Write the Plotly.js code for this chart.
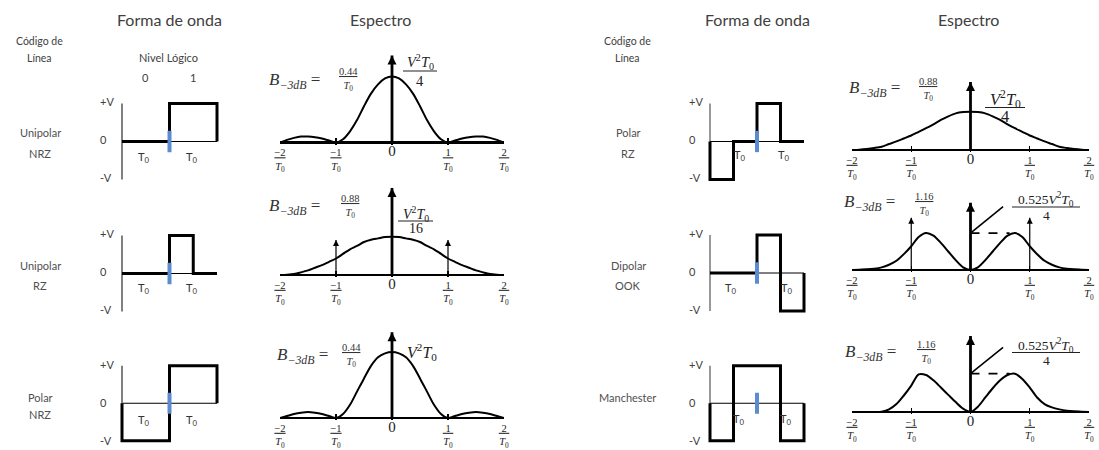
<!DOCTYPE html>
<html><head><meta charset="utf-8">
<script src="https://cdn.plot.ly/plotly-3.0.1.min.js"></script>
<style>html,body{margin:0;padding:0;background:#fff;}#chart{width:1099px;height:450px;}</style>
</head><body><div id="chart"></div>
<script>
// ---------------- data ----------------
const lineCodeNames = [['Unipolar','NRZ'],['Unipolar','RZ'],['Polar','NRZ'],['Polar','RZ'],['Dipolar','OOK'],['Manchester']];
const columnTitles = ['Forma de onda','Espectro'];
const logicLevels = ['0','1'];
const voltLabels = ['+V','0','-V'];
const freqTickVals = [-2,-1,0,1,2];
const freqTickText = ['<u>\u22122</u><br><i>T</i><sub>0</sub>','<u>\u22121</u><br><i>T</i><sub>0</sub>','<span style="font-size:15px">0</span>','<u>\u00a01\u00a0</u><br><i>T</i><sub>0</sub>','<u>\u00a02\u00a0</u><br><i>T</i><sub>0</sub>'];

// waveforms: time in units of T0, level in units of V
const uniNrzT = [0,1,1,2,2],                 uniNrzV = [0,0,1,1,0];
const uniRzT  = [0,1,1,1.5,1.5,2],           uniRzV  = [0,0,1,1,0,0];
const polNrzT = [0,0,1,1,2,2],               polNrzV = [0,-1,-1,1,1,0];
const polRzT  = [0,0,0.5,0.5,1,1,1.5,1.5,2], polRzV  = [0,-1,-1,0,0,1,1,0,0];
const dipOokT = [0,1,1,1.5,1.5,2,2],         dipOokV = [0,0,1,1,-1,-1,0];
const manchT  = [0,0,0.5,0.5,1.5,1.5,2,2],   manchV  = [0,-1,-1,1,1,-1,-1,0];

// spectra: frequency in units of 1/T0 and drawn height, both
const freqGrid = [-2,-1.875,-1.75,-1.625,-1.5,-1.375,-1.25,-1.125,-1,-0.875,-0.75,-0.625,-0.5,-0.375,-0.25,-0.125,0,
                  0.125,0.25,0.375,0.5,0.625,0.75,0.875,1,1.125,1.25,1.375,1.5,1.625,1.75,1.875,2];
const psdUniNrz = [0,0.04,0.07,0.09,0.09,0.08,0.06,0.03,0,0.05,0.17,0.34,0.55,0.74,0.88,0.97,1.0,
                   0.97,0.88,0.74,0.55,0.34,0.17,0.05,0,0.03,0.06,0.08,0.09,0.09,0.07,0.04,0];
const psdUniRz  = [0,0.005,0.015,0.04,0.07,0.11,0.15,0.2,0.25,0.32,0.39,0.44,0.5,0.535,0.555,0.575,0.58,
                   0.575,0.555,0.535,0.5,0.44,0.39,0.32,0.25,0.2,0.15,0.11,0.07,0.04,0.015,0.005,0];
const psdPolNrz = [0,0.03,0.06,0.08,0.09,0.08,0.06,0.03,0,0.06,0.2,0.4,0.6,0.79,0.92,0.98,1.0,
                   0.98,0.92,0.79,0.6,0.4,0.2,0.06,0,0.03,0.06,0.08,0.09,0.08,0.06,0.03,0];
const psdPolRz  = [0,0.005,0.015,0.03,0.05,0.09,0.13,0.175,0.22,0.275,0.33,0.39,0.455,0.51,0.555,0.575,0.58,
                   0.575,0.555,0.51,0.455,0.39,0.33,0.275,0.22,0.175,0.13,0.09,0.05,0.03,0.015,0.005,0];
const psdDipOok = [0,0.005,0.01,0.02,0.04,0.08,0.14,0.24,0.36,0.5,0.56,0.52,0.41,0.28,0.15,0.04,0,
                   0.04,0.15,0.28,0.41,0.52,0.56,0.5,0.36,0.24,0.14,0.08,0.04,0.02,0.01,0.005,0];
const psdManch  = [0,0,0,0,0.005,0.04,0.12,0.25,0.4,0.57,0.56,0.48,0.37,0.26,0.15,0.05,0,
                   0.08,0.22,0.36,0.48,0.56,0.58,0.5,0.37,0.22,0.12,0.07,0.04,0.02,0.01,0.005,0];

const impulseMain = [1.32,1.32,1.30,1.03,1.02,1.15];   // vertical-axis arrow heights
const impulseSide = [null,0.53,null,null,0.79,null];    // discrete lines at +-1/T0
const bandwidth3dB = ['0.44','0.88','0.44','0.88','1.16','1.16'];
const V2T0 = '<i>V</i><sup>2</sup><i>T</i><sub>0</sub>';
const peakNum = [V2T0, V2T0, V2T0, V2T0, '0.525' + V2T0, '0.525' + V2T0];
const peakDen = ['4','16',null,'4','4','4'];

const waves = [[uniNrzT,uniNrzV],[uniRzT,uniRzV],[polNrzT,polNrzV],[polRzT,polRzV],[dipOokT,dipOokV],[manchT,manchV]];
const spectra = [psdUniNrz,psdUniRz,psdPolNrz,psdPolRz,psdDipOok,psdManch];

// ---------------- layout helpers ----------------
const W = 1099, H = 450;
const X = p => p / W, Y = p => 1 - p / H;
const SANS = 'Lato, "Open Sans", sans-serif';
const SERIF = '"Liberation Serif", "DejaVu Serif", serif';
const TXT = '#404040';

// per-panel placement (pixels)
const panelPos = [
  {wx0:122, wT:47.5, zero:141.5, sx0:280, sx1:504, axis:142.5, lab:[40,132,153], t0:[144,192], t0y:157, vlx:98,
   bx:267, by:81, fx:348, fy:79, px:420, pny:62, pdy:80.5, bar:[403,437,71], pfs:14.5},
  {wx0:122, wT:47.5, zero:273.5, sx0:280, sx1:504, axis:275, lab:[40,265,285], t0:[144,192], t0y:288, vlx:98,
   bx:267, by:207, fx:350, fy:206, px:416, pny:214, pdy:229, bar:[398,433,221], pfs:14},
  {wx0:122, wT:47.5, zero:404, sx0:280, sx1:504, axis:418, lab:[40,397,414], t0:[144,192], t0y:420, vlx:98,
   bx:275, by:356, fx:351, fy:355, px:422, pny:352, pdy:null, bar:null, pfs:16},
  {wx0:710, wT:47, zero:141.5, sx0:852, sx1:1089, axis:150, lab:[628,132,153], t0:[740,784], t0y:155, vlx:687,
   bx:847, by:89, fx:928, fy:89, px:1005, pny:99, pdy:116, bar:[985,1025,107.5], pfs:16.5},
  {wx0:710, wT:47, zero:273, sx0:852, sx1:1089, axis:270, lab:[628,265,285], t0:[731,787], t0y:288, vlx:687,
   bx:842, by:203, fx:924, fy:204, px:1046, pny:199.5, pdy:215, bar:[1012,1080,207], pfs:13.5},
  {wx0:710, wT:47, zero:404, sx0:852, sx1:1089, axis:412, lab:[627,397,414], t0:[739,786], t0y:419, vlx:687,
   bx:843, by:353, fx:926, fy:352, px:1046, pny:345.5, pdy:360, bar:[1012,1080,352.5], pfs:13.5}
];

const VPX = 38;          // pixels per V in waveform panels
const SPX = 66;          // pixels per unit height in spectrum panels
const WR = [-0.15, 2.3], VR = [-1.25, 1.25], SR = [-0.035, 1.4];

const layout = {
  width: W, height: H, margin: {l:0, r:0, t:0, b:0},
  paper_bgcolor: '#ffffff', plot_bgcolor: 'rgba(0,0,0,0)',
  showlegend: false, font: {family: SANS, color: TXT},
  annotations: [], shapes: []
};
const traces = [];
const ann = (o) => layout.annotations.push(Object.assign({showarrow:false, xref:'paper', yref:'paper'}, o));

// column headers
[[169.5,757],[380,968.5]].forEach((xs, c) => xs.forEach(x =>
  ann({x:X(x), y:Y(19), text:columnTitles[c], font:{family:SANS, size:16, color:TXT}, xanchor:'center', yanchor:'middle'})));
[39,627].forEach(x => {
  ann({x:X(x), y:Y(41), text:'Código de', font:{family:SANS, size:10.5, color:TXT}, xanchor:'center', yanchor:'middle'});
  ann({x:X(x), y:Y(58), text:'Línea', font:{family:SANS, size:10.5, color:TXT}, xanchor:'center', yanchor:'middle'});
});
ann({x:X(168.5), y:Y(58), text:'Nivel Lógico', font:{family:SANS, size:11, color:TXT}, xanchor:'center', yanchor:'middle'});
logicLevels.forEach((t, k) => ann({x:X([145.5,192.5][k]), y:Y(77), text:t, font:{family:SANS, size:11, color:TXT}, xanchor:'center', yanchor:'middle'}));

panelPos.forEach((p, i) => {
  const a = 2*i + 1, b = 2*i + 2;
  const xa = 'x' + (a === 1 ? '' : a), ya = 'y' + (a === 1 ? '' : a);
  const xb = 'x' + b, yb = 'y' + b;
  // waveform axes
  layout['xaxis' + (a === 1 ? '' : a)] = {domain:[X(p.wx0 + WR[0]*p.wT), X(p.wx0 + WR[1]*p.wT)], range:WR, visible:false, anchor:ya, fixedrange:true};
  layout['yaxis' + (a === 1 ? '' : a)] = {domain:[Y(p.zero - VR[0]*VPX), Y(p.zero - VR[1]*VPX)], range:VR, visible:false, anchor:xa, fixedrange:true};
  // spectrum axes
  layout['xaxis' + b] = {domain:[X(p.sx0), X(p.sx1)], range:[-2,2], anchor:yb, showgrid:false, zeroline:false, showline:false,
    ticks:'inside', ticklen:6.5, tickwidth:1.3, tickcolor:'#000', tickvals:freqTickVals, ticktext:freqTickText,
    tickfont:{family:SERIF, size:10.5, color:'#222'}, fixedrange:true};
  layout['yaxis' + b] = {domain:[Y(p.axis - SR[0]*SPX), Y(p.axis - SR[1]*SPX)], range:SR, anchor:xb, showgrid:false,
    zeroline:true, zerolinecolor:'#000', zerolinewidth:2.6, showline:false, showticklabels:false, ticks:'', fixedrange:true};

  const left = i < 3;
  // waveform: zero reference, vertical axis, signal, bit boundary marker
  traces.push({x:[0,2], y:[0,0], xaxis:xa, yaxis:ya, mode:'lines', line:{color:'#000', width:1}, hoverinfo:'skip'});
  traces.push({x:[0,0], y:[-1,1], xaxis:xa, yaxis:ya, mode:'lines', line:{color:left ? '#808080' : '#555', width:left ? 2 : 1.2}, hoverinfo:'skip'});
  traces.push({x:waves[i][0], y:waves[i][1], xaxis:xa, yaxis:ya, mode:'lines', line:{color:'#000', width:3}, hoverinfo:'skip'});
  traces.push({x:[1,1], y:[-0.28,0.28], xaxis:xa, yaxis:ya, mode:'lines', line:{color:'#5b8bd0', width:4}, hoverinfo:'skip'});

  // level labels
  voltLabels.forEach((t, k) => ann({x:X(p.vlx), y:Y(p.zero - [1,0,-1][k]*VPX - 2), text:t, font:{family:SANS, size:11, color:TXT}, xanchor:'left', yanchor:'middle'}));
  // T0 labels
  p.t0.forEach(x => ann({x:X(x), y:Y(p.t0y), text:'T<sub>0</sub>', font:{family:SANS, size:11, color:'#333'}, xanchor:'center', yanchor:'middle'}));
  // line code name
  lineCodeNames[i].forEach((t, k) => ann({x:X(p.lab[0]), y:Y(lineCodeNames[i].length === 1 ? p.lab[1] : p.lab[1 + k]), text:t, font:{family:SANS, size:11, color:'#505050'}, xanchor:'center', yanchor:'middle'}));

  // spectrum curve
  traces.push({x:freqGrid, y:spectra[i], xaxis:xb, yaxis:yb, mode:'lines', line:{color:'#000', width:2, shape:'spline', smoothing:0.8}, hoverinfo:'skip'});
  // vertical axis arrow (stem + head)
  traces.push({x:[0,0], y:[0,impulseMain[i]], xaxis:xb, yaxis:yb, mode:'lines', line:{color:'#000', width:2.8}, hoverinfo:'skip', cliponaxis:false});
  traces.push({x:[0], y:[impulseMain[i]], xaxis:xb, yaxis:yb, mode:'markers', marker:{symbol:'arrow-up', size:9, color:'#000', line:{width:0}}, hoverinfo:'skip', cliponaxis:false});
  // discrete spectral lines at +-1/T0
  if (impulseSide[i] !== null) {
    traces.push({x:[-1,-1,null,1,1], y:[0,impulseSide[i],null,0,impulseSide[i]], xaxis:xb, yaxis:yb, mode:'lines', line:{color:'#000', width:1.2}, hoverinfo:'skip'});
    traces.push({x:[-1,1], y:[impulseSide[i],impulseSide[i]], xaxis:xb, yaxis:yb, mode:'markers', marker:{symbol:'arrow-up', size:6, color:'#000', line:{width:0}}, hoverinfo:'skip', cliponaxis:false});
  }
  // peak level marker + callout line for split spectra (dipolar / manchester)
  if (i >= 4) {
    let kMax = 0;
    spectra[i].forEach((v, k) => { if (freqGrid[k] > 0 && v > spectra[i][kMax]) kMax = k; });
    const pk = spectra[i][kMax], fPk = freqGrid[kMax];
    traces.push({x:[0, fPk - 0.09], y:[pk, pk], xaxis:xb, yaxis:yb, mode:'lines', line:{color:'#000', width:1.8, dash:'dash'}, hoverinfo:'skip'});
    traces.push({x:[0, 0.55], y:[pk, pk + 0.4], xaxis:xb, yaxis:yb, mode:'lines', line:{color:'#000', width:1.6}, hoverinfo:'skip', cliponaxis:false});
  }
  // bandwidth label
  ann({x:X(p.bx), y:Y(p.by), text:'<i>B</i><sub><i>\u22123dB</i></sub> =', font:{family:SERIF, size:17, color:'#333'}, xanchor:'left', yanchor:'middle'});
  ann({x:X(p.fx), y:Y(p.fy), text:'<u>' + bandwidth3dB[i] + '</u><br><i>T</i><sub>0</sub>', font:{family:SERIF, size:10.5, color:'#333'}, xanchor:'center', yanchor:'middle'});
  // peak label (fraction built from numerator, bar and denominator)
  ann({x:X(p.px), y:Y(p.pny), text:peakNum[i], font:{family:SERIF, size:p.pfs, color:'#222'}, xanchor:'center', yanchor:'middle'});
  if (peakDen[i] !== null) {
    ann({x:X(p.px), y:Y(p.pdy), text:peakDen[i], font:{family:SERIF, size:p.pfs, color:'#222'}, xanchor:'center', yanchor:'middle'});
    layout.shapes.push({type:'line', xref:'paper', yref:'paper', x0:X(p.bar[0]), x1:X(p.bar[1]), y0:Y(p.bar[2]), y1:Y(p.bar[2]), line:{color:'#222', width:1.2}});
  }
});

Plotly.newPlot('chart', traces, layout, {displayModeBar:false, staticPlot:true});
</script></body></html>
